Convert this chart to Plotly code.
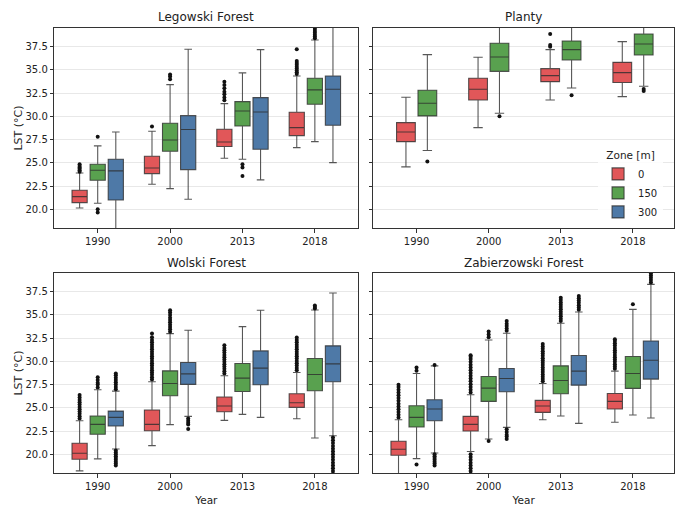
import plotly.graph_objects as go

years = ["1990", "2000", "2013", "2018"]
zones = ["0", "150", "300"]
colors = ["#E15759", "#59A14F", "#4E79A7"]
ytick_vals = [20.0, 22.5, 25.0, 27.5, 30.0, 32.5, 35.0, 37.5]

# ---------------- Legowski Forest (rows = zones 0,150,300; cols = years)
leg_lo = [[20.14, 22.69, 25.49, 26.64], [20.65, 22.22, 25.38, 27.28], [17.0, 21.08, 23.16, 25.02]]
leg_q1 = [[20.72, 23.84, 26.75, 27.93], [23.12, 26.24, 28.97, 31.30], [21.00, 24.27, 26.46, 29.04]]
leg_med = [[21.36, 24.45, 27.25, 28.79], [24.20, 27.46, 30.58, 32.85], [24.13, 28.58, 30.48, 32.92]]
leg_q3 = [[22.05, 25.70, 28.61, 30.44], [24.84, 29.26, 31.59, 34.10], [25.38, 30.08, 32.02, 34.35]]
leg_hi = [[23.90, 28.40, 31.37, 34.35], [26.82, 33.42, 34.68, 38.23], [28.32, 37.22, 37.19, 40.5]]
leg_out = [
    [[24.05, 24.2, 24.35, 24.5, 24.65, 24.84], [28.9],
     [31.73, 32.02, 32.38, 32.66, 33.02, 33.38, 33.74],
     [34.55, 34.75, 34.95, 35.15, 35.35, 35.55, 35.75, 35.97, 37.22]],
    [[19.64, 20.0, 27.82], [34.0, 34.3, 34.5], [23.59, 24.49, 24.84],
     [38.4, 38.6, 38.8, 39.0, 39.2, 39.4, 39.6]],
    [[], [], [], []],
]

# ---------------- Planty (zones 0,150 only)
pla_lo = [[24.56, 28.79, 31.77, 32.13], [26.32, 30.33, 33.06, 33.24]]
pla_q1 = [[27.28, 31.77, 33.74, 33.64], [30.05, 34.85, 36.07, 36.61]]
pla_med = [[28.32, 32.92, 34.39, 34.71], [31.41, 36.40, 37.19, 37.80]]
pla_q3 = [[29.33, 34.10, 35.14, 35.82], [32.81, 37.87, 38.12, 38.87]]
pla_hi = [[32.06, 36.36, 37.19, 38.05], [36.65, 40.0, 40.0, 40.0]]
pla_out = [
    [[], [], [37.51, 37.69, 38.87], []],
    [[25.13], [30.01], [32.27], [32.74, 32.95]],
]

# ---------------- Wolski Forest
wol_lo = [[18.21, 20.93, 23.65, 23.83], [19.50, 23.19, 24.29, 21.75], [20.57, 24.08, 23.97, 22.00]]
wol_q1 = [[19.46, 22.54, 24.58, 25.05], [22.15, 26.30, 26.76, 26.84], [23.04, 27.52, 27.48, 27.80]]
wol_med = [[20.11, 23.22, 25.19, 25.55], [23.22, 27.62, 28.20, 28.59], [23.97, 28.66, 29.27, 29.73]]
wol_q3 = [[21.18, 24.76, 26.16, 26.51], [24.12, 28.98, 29.77, 30.31], [24.65, 29.88, 31.13, 31.67]]
wol_hi = [[23.61, 27.80, 28.45, 28.80], [26.94, 32.99, 33.74, 35.53], [26.80, 33.35, 35.50, 37.36]]
wol_out = [
    [[23.85, 24.1, 24.35, 24.6, 24.85, 25.1, 25.35, 25.6, 25.85, 26.1, 26.37],
     [28.05, 28.3, 28.55, 28.8, 29.05, 29.3, 29.55, 29.8, 30.05, 30.3, 30.55, 30.8,
      31.05, 31.3, 31.55, 31.8, 32.05, 32.3, 32.6, 32.99],
     [28.7, 28.95, 29.2, 29.45, 29.7, 29.95, 30.2, 30.45, 30.7, 30.95, 31.2, 31.45, 31.74],
     [29.05, 29.3, 29.55, 29.8, 30.05, 30.3, 30.55, 30.8, 31.05, 31.3, 31.55, 31.8,
      32.05, 32.3, 32.56]],
    [[27.2, 27.5, 27.7, 28.0, 28.3],
     [33.2, 33.45, 33.7, 33.95, 34.2, 34.45, 34.7, 35.0, 35.25, 35.5],
     [],
     [35.7, 35.85, 36.03]],
    [[18.8, 19.0, 19.2, 19.4, 19.6, 19.8, 20.0, 20.2, 20.4,
      27.0, 27.25, 27.5, 27.75, 28.0, 28.25, 28.5, 28.7],
     [22.72, 23.2, 23.4, 23.6, 23.85],
     [],
     [17.9, 18.2, 18.5, 18.8, 19.1, 19.4, 19.7, 20.0, 20.3, 20.6, 20.9, 21.2, 21.5, 21.8]],
]

# ---------------- Zabierzowski Forest
zab_lo = [[17.5, 20.29, 23.72, 23.44], [19.53, 21.65, 24.12, 24.22], [20.14, 22.90, 23.33, 23.90]]
zab_q1 = [[19.89, 22.51, 24.51, 24.87], [22.93, 25.69, 26.51, 27.09], [23.61, 26.73, 27.44, 28.09]]
zab_med = [[20.54, 23.22, 25.19, 25.69], [23.97, 27.12, 27.95, 28.70], [24.87, 28.16, 28.95, 30.13]]
zab_q3 = [[21.40, 24.08, 25.80, 26.55], [25.23, 28.38, 29.52, 30.52], [25.87, 29.23, 30.63, 32.20]]
zab_hi = [[23.72, 26.41, 27.62, 28.95], [28.70, 32.31, 34.10, 35.60], [29.52, 33.03, 35.32, 38.29]]
zab_out = [
    [[23.95, 24.25, 24.55, 24.85, 25.15, 25.45, 25.75, 26.05, 26.35, 26.65, 26.95, 27.25, 27.48],
     [17.9, 18.2, 18.5, 18.8, 19.1, 19.4, 19.7, 20.0,
      26.65, 26.95, 27.25, 27.55, 27.85, 28.15, 28.45, 28.75, 29.05, 29.35, 29.65,
      29.95, 30.25, 30.5, 30.67],
     [27.85, 28.1, 28.35, 28.6, 28.85, 29.1, 29.35, 29.6, 29.85, 30.1, 30.35, 30.6,
      30.85, 31.1, 31.35, 31.6, 31.88],
     [29.2, 29.45, 29.7, 29.95, 30.2, 30.45, 30.7, 30.95, 31.2, 31.45, 31.7, 31.95,
      32.2, 32.38]],
    [[18.89, 29.0, 29.34],
     [21.43, 32.6, 32.9, 33.21],
     [34.35, 34.6, 34.85, 35.1, 35.35, 35.6, 35.85, 36.1, 36.35, 36.6, 36.86],
     [36.14]],
    [[18.8, 19.0, 19.2, 19.4, 19.6, 19.8, 20.0, 29.6],
     [21.65, 21.9, 22.1, 22.4, 22.7, 33.3, 33.55, 33.8, 34.05, 34.35],
     [35.55, 35.8, 36.05, 36.3, 36.55, 36.8, 37.04],
     [38.5, 38.75, 39.0, 39.25, 39.5, 39.75]],
]

panels = [
    dict(title="Legowski Forest", lo=leg_lo, q1=leg_q1, med=leg_med, q3=leg_q3, hi=leg_hi, out=leg_out,
         xa="x", ya="y", dx=[0.0804, 0.5308], dy=[0.5488, 0.9453], ty=0.9664, left=True, bottom=False),
    dict(title="Planty", lo=pla_lo, q1=pla_q1, med=pla_med, q3=pla_q3, hi=pla_hi, out=pla_out,
         xa="x2", ya="y2", dx=[0.5530, 0.9985], dy=[0.5488, 0.9453], ty=0.9664, left=False, bottom=False),
    dict(title="Wolski Forest", lo=wol_lo, q1=wol_q1, med=wol_med, q3=wol_q3, hi=wol_hi, out=wol_out,
         xa="x3", ya="y3", dx=[0.0804, 0.5308], dy=[0.0646, 0.4611], ty=0.4802, left=True, bottom=True),
    dict(title="Zabierzowski Forest", lo=zab_lo, q1=zab_q1, med=zab_med, q3=zab_q3, hi=zab_hi, out=zab_out,
         xa="x4", ya="y4", dx=[0.5530, 0.9985], dy=[0.0646, 0.4611], ty=0.4802, left=False, bottom=True),
]

fig = go.Figure()
legend_done = set()
for p in panels:
    nz = len(p["q1"])
    if nz == 3:
        offsets, bw = [-0.25, 0.0, 0.25], 0.21
    else:
        offsets, bw = [-0.147, 0.15], 0.26
    for z in range(nz):
        xs = [i + offsets[z] for i in range(len(years))]
        show = zones[z] not in legend_done
        legend_done.add(zones[z])
        fig.add_trace(go.Box(
            x=xs, q1=p["q1"][z], median=p["med"][z], q3=p["q3"][z],
            lowerfence=p["lo"][z], upperfence=p["hi"][z],
            width=bw, whiskerwidth=0.5, boxpoints=False,
            fillcolor=colors[z], line=dict(color="rgba(45,45,45,0.8)", width=1.1),
            name=zones[z], legendgroup=zones[z], showlegend=show,
            xaxis=p["xa"], yaxis=p["ya"], hoverinfo="skip",
        ))
        ox, oy = [], []
        for i, vals in enumerate(p["out"][z]):
            ox += [i + offsets[z]] * len(vals)
            oy += vals
        if oy:
            fig.add_trace(go.Scatter(
                x=ox, y=oy, mode="markers",
                marker=dict(color="#111111", size=4, line=dict(width=0)),
                showlegend=False, xaxis=p["xa"], yaxis=p["ya"], hoverinfo="skip",
            ))

axis_common = dict(showline=True, mirror=True, linecolor="#333333", linewidth=1,
                   ticks="outside", ticklen=3.5, tickcolor="#333333", zeroline=False,
                   automargin=False,
                   tickfont=dict(family="DejaVu Sans", size=10, color="#222222"))

layout = dict(
    width=675, height=506,
    margin=dict(l=0, r=0, t=0, b=0, autoexpand=False),
    paper_bgcolor="white", plot_bgcolor="white", boxmode="overlay",
    font=dict(family="DejaVu Sans", color="#222222"),
    legend=dict(x=0.886, y=0.712, xanchor="left", yanchor="top",
                title=dict(text="Zone [m]", side="top center", font=dict(size=10.5)),
                font=dict(size=10), bgcolor="rgba(255,255,255,0.85)",
                tracegroupgap=0, itemwidth=30),
    annotations=[],
)
for k, p in enumerate(panels):
    sx = "" if k == 0 else str(k + 1)
    layout["xaxis" + sx] = dict(axis_common, domain=p["dx"], anchor=p["ya"],
                                range=[-0.6, 3.6] if p["left"] else [-0.6, 3.57],
                                tickvals=list(range(len(years))), ticktext=years,
                                showgrid=False,
                                title=dict(text="Year", font=dict(size=10.5), standoff=6) if p["bottom"] else None)
    layout["yaxis" + sx] = dict(axis_common, domain=p["dy"], anchor=p["xa"],
                                range=[17.95, 39.55], tickvals=ytick_vals,
                                ticktext=["%.1f" % v for v in ytick_vals],
                                showticklabels=p["left"], showgrid=True,
                                gridcolor="#e8e8e8", gridwidth=1,
                                title=dict(text="LST (°C)", font=dict(size=11), standoff=0) if p["left"] else None)
    layout["annotations"].append(dict(
        text=p["title"], xref="paper", yref="paper",
        x=(p["dx"][0] + p["dx"][1]) / 2, y=p["ty"],
        xanchor="center", yanchor="middle", showarrow=False,
        font=dict(family="DejaVu Sans", size=12, color="#222222")))

fig.update_layout(**layout)
fig.write_html("out.html", config={"displayModeBar": False},
               post_script="document.body.style.margin='0px';document.body.style.overflow='hidden';")
